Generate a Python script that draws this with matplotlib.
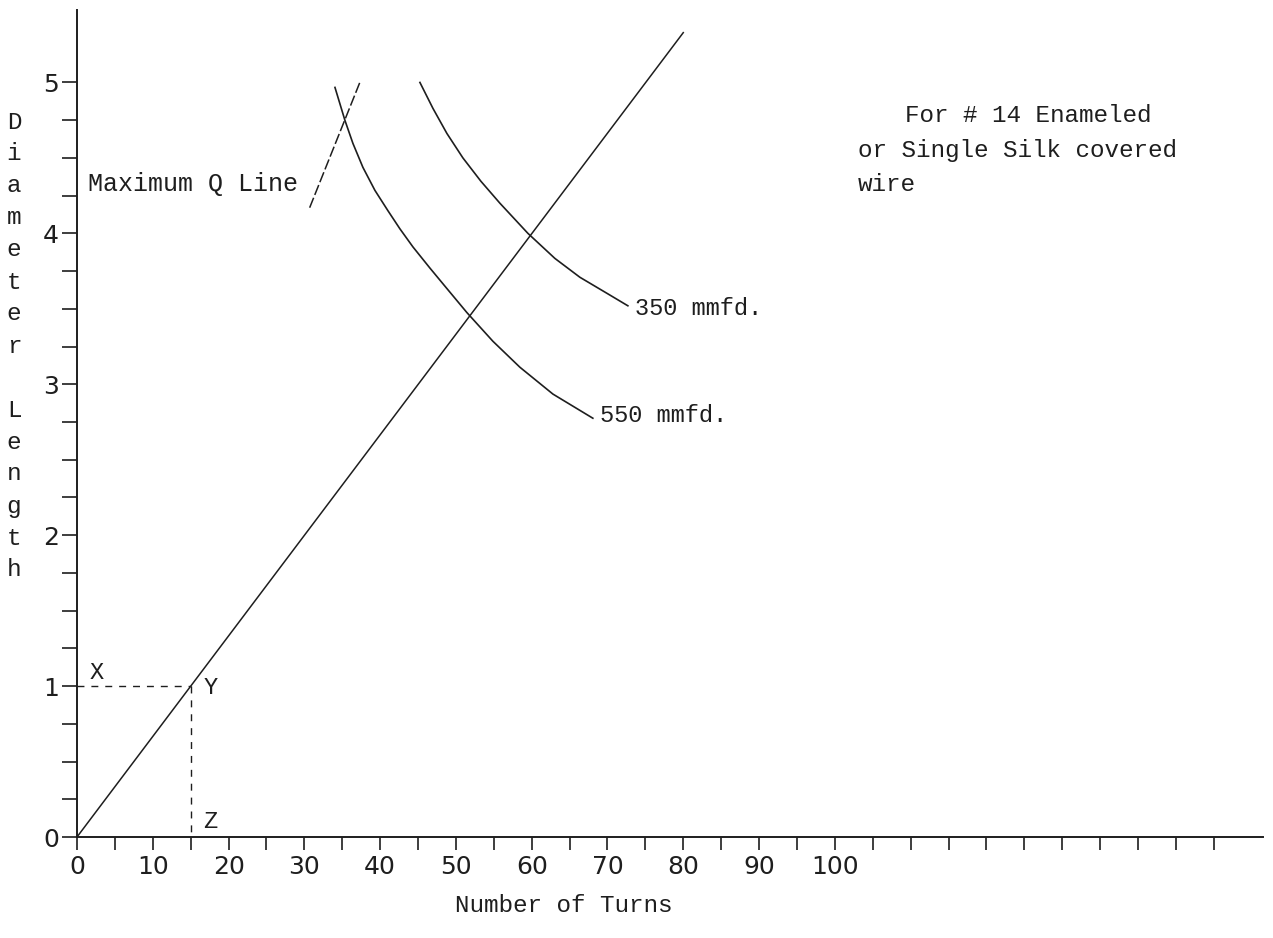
import matplotlib.pyplot as plt
import numpy as np

# straight line D/L = N/15
line_turns = [0, 80]
line_ratio = [0, 5.33]

# capacity curves
c550_turns = [34.04, 35.36, 36.41, 37.73, 39.31, 41.03, 42.61, 44.33, 46.57, 48.55,
              51.45, 54.88, 58.44, 62.80, 68.07]
c550_ratio = [4.967, 4.748, 4.596, 4.437, 4.285, 4.150, 4.030, 3.910, 3.770, 3.650,
              3.475, 3.285, 3.113, 2.935, 2.775]
c350_turns = [45.25, 46.97, 48.81, 50.92, 53.30, 55.80, 59.50, 63.06, 66.36, 69.92, 72.69]
c350_ratio = [5.000, 4.828, 4.662, 4.500, 4.345, 4.200, 4.000, 3.834, 3.709, 3.603, 3.520]

# maximum Q line segment
maxq_turns = [30.7, 37.4]
maxq_ratio = [4.17, 5.01]

# worked example X-Y-Z
example_turns = 15
example_ratio = 1

xticks = np.arange(0, 155, 5)
xlabels = [str(v) if (v % 10 == 0 and v <= 100) else '' for v in xticks]
yticks = np.arange(0, 5.01, 0.25)
ylabels = [str(int(v)) if v == int(v) else '' for v in yticks]

ink = '#1e1e1e'
mono = 'Liberation Mono'

fig = plt.figure(figsize=(12.73, 9.38), dpi=100)
ax = fig.add_axes([77/1273, 101/938, 1186/1273, 827/938])
ax.set_xlim(0, 156.5)
ax.set_ylim(0, 5.48)

for s in ['top', 'right']:
    ax.spines[s].set_visible(False)
for s in ['left', 'bottom']:
    ax.spines[s].set_color(ink)
    ax.spines[s].set_linewidth(1.4)

ax.set_xticks(xticks)
ax.set_xticklabels(xlabels)
ax.set_yticks(yticks)
ax.set_yticklabels(ylabels)
ax.tick_params(axis='x', direction='out', length=9, width=1.2, color=ink, pad=4,
               labelsize=18, labelcolor=ink)
ax.tick_params(axis='y', direction='out', length=11, width=1.2, color=ink, pad=2,
               labelsize=18, labelcolor=ink)

ax.plot(line_turns, line_ratio, color=ink, lw=1.1, clip_on=False)
ax.plot(c550_turns, c550_ratio, color=ink, lw=1.2, solid_joinstyle='round')
ax.plot(c350_turns, c350_ratio, color=ink, lw=1.2, solid_joinstyle='round')
ax.plot(maxq_turns, maxq_ratio, color=ink, lw=1.1, dashes=(7, 2))

ax.plot([0, example_turns], [example_ratio, example_ratio], color=ink, lw=1.0, dashes=(5, 5))
ax.plot([example_turns, example_turns], [example_ratio, 0], color=ink, lw=1.0, dashes=(5, 5))

ax.text(2.6, 1.09, 'X', family=mono, fontsize=17, color=ink, ha='center', va='center')
ax.text(17.6, 0.99, 'Y', family=mono, fontsize=17, color=ink, ha='center', va='center')
ax.text(17.6, 0.10, 'Z', family=mono, fontsize=17, color=ink, ha='center', va='center')

ax.text(1.5, 4.33, 'Maximum Q Line', family=mono, fontsize=18, color=ink, va='center')
ax.text(73.6, 3.50, '350 mmfd.', family=mono, fontsize=17, color=ink, va='center')
ax.text(69.0, 2.79, '550 mmfd.', family=mono, fontsize=17, color=ink, va='center')

fig.text(905/1273, 1 - 115/938, 'For # 14 Enameled', family=mono, fontsize=17.5, color=ink, va='center')
fig.text(858/1273, 1 - 150/938, 'or Single Silk covered', family=mono, fontsize=17.5, color=ink, va='center')
fig.text(858/1273, 1 - 184/938, 'wire', family=mono, fontsize=17.5, color=ink, va='center')

fig.text(564/1273, 1 - 905/938, 'Number of Turns', family=mono, fontsize=17.5, color=ink,
         ha='center', va='center')

# vertical stacked y label
for i, ch in enumerate('Diameter Length'):
    fig.text(14/1273, 1 - (122 + i * 32)/938, ch, family=mono, fontsize=17.5, color=ink,
             ha='center', va='center')

fig.savefig('out.png', dpi=100, facecolor='white')
